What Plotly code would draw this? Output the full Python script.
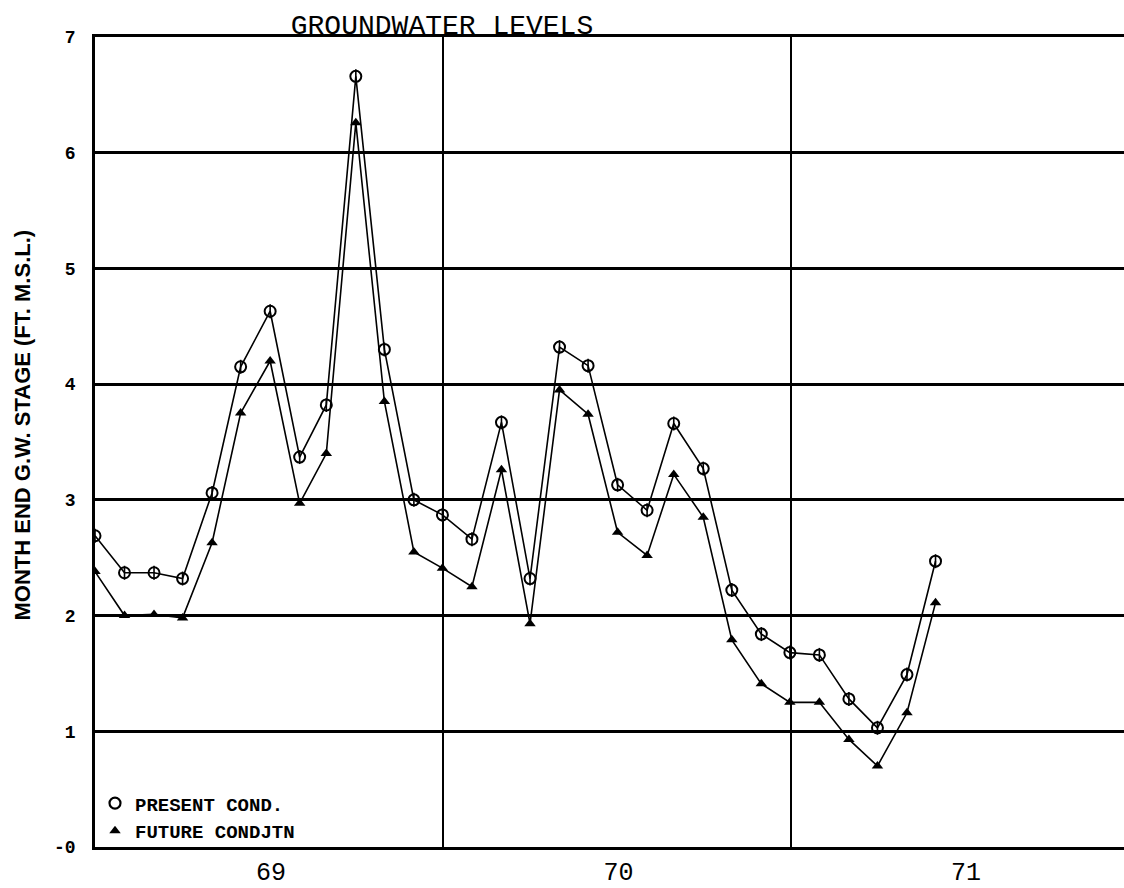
import pandas as pd
import plotly.graph_objects as go

# Month-end groundwater stage, July 1968 onward (ft above M.S.L.)
month_end = pd.date_range("1968-06-30", periods=30, freq="ME")
present_cond = [2.69, 2.37, 2.37, 2.32, 3.06, 4.15, 4.63, 3.37, 3.82, 6.66,
                4.30, 3.00, 2.87, 2.66, 3.67, 2.32, 4.32, 4.16, 3.13, 2.91,
                3.66, 3.27, 2.22, 1.84, 1.68, 1.66, 1.28, 1.03, 1.49, 2.47]
future_cond = [2.38, 2.00, 2.01, 1.98, 2.63, 3.75, 4.20, 2.97, 3.40, 6.26,
               3.85, 2.55, 2.41, 2.25, 3.26, 1.93, 3.95, 3.74, 2.72, 2.52,
               3.22, 2.85, 1.79, 1.41, 1.25, 1.25, 0.93, 0.70, 1.16, 2.11]

year_ticks = ["1969-01-01", "1970-01-01", "1971-01-01"]
year_labels = ["69", "70", "71"]
mid_year_grid = ["1969-07-01", "1970-07-01"]
stage_ticks = [0, 1, 2, 3, 4, 5, 6, 7]
stage_labels = ["-0", "1", "2", "3", "4", "5", "6", "7"]

INK = "black"
MONO = "Liberation Mono, DejaVu Sans Mono, monospace"

fig = go.Figure()

# Present conditions: open circle with a vertical bar
fig.add_trace(go.Scatter(
    x=month_end, y=present_cond, mode="lines+markers",
    line=dict(color=INK, width=1.6),
    marker=dict(symbol="circle-open", size=11, color=INK, line=dict(width=2, color=INK)),
    showlegend=False, hoverinfo="x+y",
))
fig.add_trace(go.Scatter(
    x=month_end, y=present_cond, mode="markers",
    marker=dict(symbol="line-ns", size=10, color=INK, line=dict(width=1.6, color=INK)),
    showlegend=False, hoverinfo="skip",
))
# Future conditions: filled triangle
fig.add_trace(go.Scatter(
    x=month_end, y=future_cond, mode="lines+markers",
    line=dict(color=INK, width=1.6),
    marker=dict(symbol="triangle-up", size=10, color=INK),
    showlegend=False, hoverinfo="x+y",
))

# Legend-only entries
fig.add_trace(go.Scatter(
    x=[None], y=[None], mode="markers", name="PRESENT COND.",
    marker=dict(symbol="circle-open", size=11, color=INK, line=dict(width=2.2, color=INK)),
))
fig.add_trace(go.Scatter(
    x=[None], y=[None], mode="markers", name="FUTURE CONDJTN",
    marker=dict(symbol="triangle-up", size=10, color=INK),
))

fig.add_annotation(
    text="MONTH END G.W. STAGE (FT. M.S.L.)",
    xref="paper", yref="paper", x=-0.07, y=0.5215,
    xanchor="center", yanchor="middle", textangle=-90, showarrow=False,
    font=dict(family="Liberation Sans, Arial, sans-serif", size=22, color=INK, weight="bold"),
)

fig.update_layout(
    width=1124, height=888,
    margin=dict(l=95, r=0, t=37, b=36),
    paper_bgcolor="white", plot_bgcolor="white",
    title=dict(
        text="GROUNDWATER LEVELS",
        font=dict(family=MONO, size=28, color=INK),
        x=442 / 1124, xanchor="center", xref="container",
        y=1 - 24 / 888, yanchor="middle", yref="container",
    ),
    legend=dict(
        x=0.0, y=-0.004, xanchor="left", yanchor="bottom",
        bgcolor="rgba(0,0,0,0)", borderwidth=0,
        font=dict(family=MONO, size=19, color=INK, weight="bold"),
        itemwidth=30, tracegroupgap=0,
    ),
    xaxis=dict(
        type="date",
        range=["1968-06-30", "1971-06-16"],
        tickvals=year_ticks, ticktext=year_labels,
        tickfont=dict(family=MONO, size=25, color=INK),
        showgrid=False, zeroline=False,
        showline=True, linecolor=INK, linewidth=2.5, mirror=True,
        ticks="",
        minor=dict(tickvals=mid_year_grid, showgrid=True, gridcolor=INK, gridwidth=1.6, ticks=""),
    ),
    yaxis=dict(
        range=[0, 7],
        tickvals=stage_ticks, ticktext=stage_labels,
        tickfont=dict(family=MONO, size=18, color=INK, weight="bold"),
        ticklabelstandoff=13,
        showgrid=True, gridcolor=INK, gridwidth=2.5,
        zeroline=False,
        showline=True, linecolor=INK, linewidth=2.5,
        ticks="",
    ),
)

fig.write_html("out.html")
